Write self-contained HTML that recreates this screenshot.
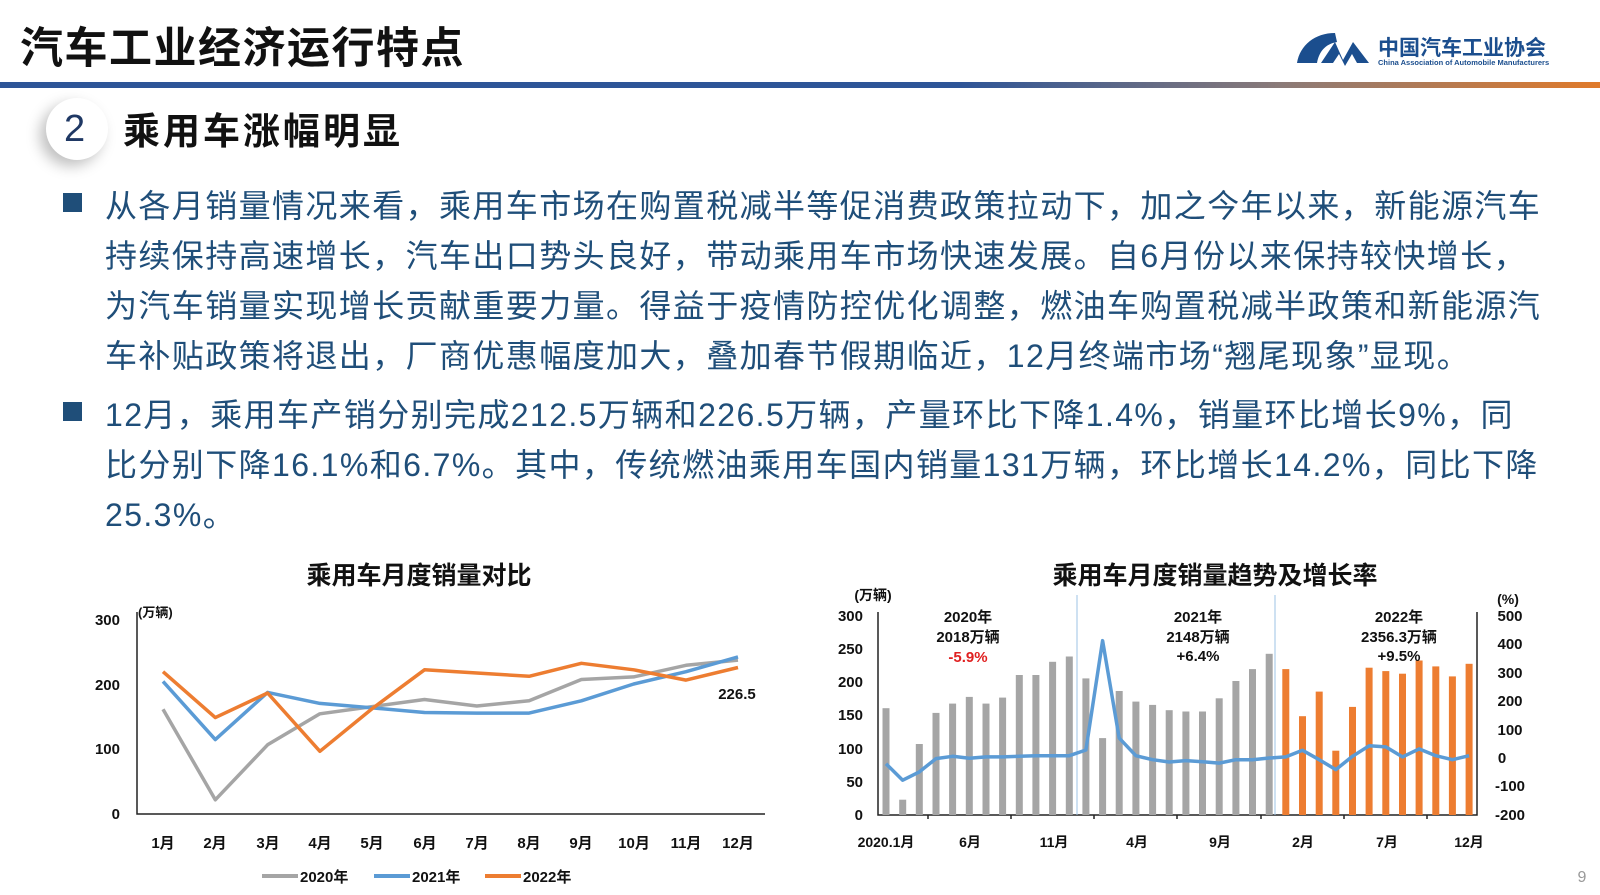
<!DOCTYPE html>
<html><head><meta charset="utf-8"><style>
body{margin:0;width:1600px;height:895px;background:#fff;overflow:hidden;position:relative;font-family:"Liberation Sans","Noto Sans CJK SC",sans-serif}
.t{position:absolute;white-space:nowrap}
.body{color:#1f4e79;font-size:32px;left:105px;letter-spacing:1.4px}
.sq{position:absolute;width:19px;height:19px;background:#1f4e79;left:63px}
</style></head><body>
<div class="t" style="left:20px;top:14px;font-size:43px;font-weight:bold;color:#111;letter-spacing:1.5px">汽车工业经济运行特点</div>
<div style="position:absolute;left:0;top:82px;width:1600px;height:6px;background:linear-gradient(to right,#2e5597 0%,#2e5597 60%,#8a7a78 80%,#e07a2a 100%)"></div>
<svg style="position:absolute;left:1295px;top:30px" width="80" height="38"><path d="M40 3 C20 3 5 15 2 33 L22 33 C24 22 30 14 42 12 Z" fill="#1b4e8e"/><path d="M26 33 L40 12 L48 30 L58 12 L74 33 L62 33 L57 24 L50 36 L44 24 L38 33Z" fill="#1b4e8e"/></svg>
<div class="t" style="left:1378px;top:32px;font-size:21px;font-weight:bold;color:#1b4e8e">中国汽车工业协会</div>
<div class="t" style="left:1378px;top:58px;font-size:7.5px;color:#1b4e8e;font-weight:bold">China Association of Automobile Manufacturers</div>
<div style="position:absolute;left:46px;top:98px;width:62px;height:62px;border-radius:50%;background:#fff;box-shadow:-6px 6px 14px rgba(0,0,0,0.25)"></div>
<div class="t" style="left:64px;top:108px;font-size:38px;color:#1f3864">2</div>
<div class="t" style="left:123px;top:101px;font-size:37px;font-weight:bold;color:#111;letter-spacing:3px">乘用车涨幅明显</div>
<div class="sq" style="top:193px"></div>
<div class="t body" style="top:181px">从各月销量情况来看，乘用车市场在购置税减半等促消费政策拉动下，加之今年以来，新能源汽车</div>
<div class="t body" style="top:231px">持续保持高速增长，汽车出口势头良好，带动乘用车市场快速发展。自6月份以来保持较快增长，</div>
<div class="t body" style="top:281px">为汽车销量实现增长贡献重要力量。得益于疫情防控优化调整，燃油车购置税减半政策和新能源汽</div>
<div class="t body" style="top:331px">车补贴政策将退出，厂商优惠幅度加大，叠加春节假期临近，12月终端市场“翘尾现象”显现。</div>
<div class="sq" style="top:402px"></div>
<div class="t body" style="top:390px">12月，乘用车产销分别完成212.5万辆和226.5万辆，产量环比下降1.4%，销量环比增长9%，同</div>
<div class="t body" style="top:440px">比分别下降16.1%和6.7%。其中，传统燃油乘用车国内销量131万辆，环比增长14.2%，同比下降</div>
<div class="t body" style="top:490px">25.3%。</div>
<svg style="position:absolute;left:0;top:0" width="1600" height="895" font-family="Liberation Sans,Noto Sans CJK SC,sans-serif" font-weight="bold">
<text x="419" y="584" font-size="25" text-anchor="middle" fill="#111">乘用车月度销量对比</text>
<g font-size="15" fill="#111" text-anchor="end"><text x="120" y="625">300</text><text x="120" y="690">200</text><text x="120" y="754">100</text><text x="120" y="819">0</text></g>
<text x="138" y="617" font-size="13" fill="#111">(万辆)</text>
<path d="M137 612V814H765" stroke="#222" stroke-width="1.5" fill="none"/>
<g font-size="15" fill="#111" text-anchor="middle"><text x="163" y="848">1月</text><text x="215" y="848">2月</text><text x="268" y="848">3月</text><text x="320" y="848">4月</text><text x="372" y="848">5月</text><text x="425" y="848">6月</text><text x="477" y="848">7月</text><text x="529" y="848">8月</text><text x="581" y="848">9月</text><text x="634" y="848">10月</text><text x="686" y="848">11月</text><text x="738" y="848">12月</text></g>
<g fill="none" stroke-width="3.5" stroke-linejoin="round">
<polyline stroke="#a5a5a5" points="163,709.2 215.3,799.8 267.6,744.8 319.9,713.8 372.2,706.6 424.5,699.5 476.8,706 529.1,700.8 581.4,679.5 633.7,676.9 686,665.3 738,660.1"/>
<polyline stroke="#5b9bd5" points="163,681.4 215.3,739.6 267.6,692.4 319.9,703.4 372.2,707.9 424.5,712.5 476.8,713.1 529.1,713.1 581.4,700.8 633.7,684 686,671.7 738,656.9"/>
<polyline stroke="#ed7d31" points="163,671.7 215.3,717.6 267.6,693 319.9,751.3 372.2,708.6 424.5,669.8 476.8,673 529.1,676.3 581.4,663.3 633.7,669.8 686,680.1 738,667.5"/>
</g>
<text x="737" y="699" font-size="15" fill="#111" text-anchor="middle">226.5</text>
<g font-size="15" fill="#111"><line x1="262" y1="876" x2="298" y2="876" stroke="#a5a5a5" stroke-width="4"/><text x="300" y="882">2020年</text>
<line x1="374" y1="876" x2="410" y2="876" stroke="#5b9bd5" stroke-width="4"/><text x="412" y="882">2021年</text>
<line x1="485" y1="876" x2="521" y2="876" stroke="#ed7d31" stroke-width="4"/><text x="523" y="882">2022年</text></g>

<text x="1215" y="584" font-size="25" text-anchor="middle" fill="#111">乘用车月度销量趋势及增长率</text>
<text x="873" y="600" font-size="14" fill="#111" text-anchor="middle">(万辆)</text>
<text x="1508" y="604" font-size="14" fill="#111" text-anchor="middle">(%)</text>
<g font-size="15" fill="#111" text-anchor="end"><text x="863" y="621">300</text><text x="863" y="654">250</text><text x="863" y="687">200</text><text x="863" y="720">150</text><text x="863" y="754">100</text><text x="863" y="787">50</text><text x="863" y="820">0</text></g>
<g font-size="15" fill="#111" text-anchor="middle"><text x="1510" y="621">500</text><text x="1510" y="649">400</text><text x="1510" y="678">300</text><text x="1510" y="706">200</text><text x="1510" y="735">100</text><text x="1502" y="763">0</text><text x="1510" y="791">-100</text><text x="1510" y="820">-200</text></g>
<path d="M878 612V815H1477V612" stroke="#222" stroke-width="1.5" fill="none"/>
<path d="M1077 595V815M1275 595V815" stroke="#9dc3e6" stroke-width="1"/>
<path d="M928 815v4M1011 815v4M1094 815v4M1177 815v4M1261 815v4M1344 815v4M1427 815v4" stroke="#222" stroke-width="1.5"/>
<g fill="#a5a5a5">
<rect x="882.5" y="708.2" width="7" height="106.8"/><rect x="899.2" y="799.7" width="7" height="15.3"/><rect x="915.8" y="744" width="7" height="71"/><rect x="932.5" y="712.9" width="7" height="102.1"/><rect x="949.1" y="703.6" width="7" height="111.4"/><rect x="965.8" y="696.9" width="7" height="118.1"/><rect x="982.5" y="703.6" width="7" height="111.4"/><rect x="999.1" y="697.6" width="7" height="117.4"/><rect x="1015.8" y="675" width="7" height="140"/><rect x="1032.4" y="675" width="7" height="140"/><rect x="1049.1" y="661.8" width="7" height="153.2"/><rect x="1065.8" y="656.5" width="7" height="158.5"/>
<rect x="1082.4" y="678.4" width="7" height="136.6"/><rect x="1099.1" y="738.1" width="7" height="76.9"/><rect x="1115.7" y="691" width="7" height="124"/><rect x="1132.4" y="701.6" width="7" height="113.4"/><rect x="1149.1" y="704.9" width="7" height="110.1"/><rect x="1165.7" y="710.2" width="7" height="104.8"/><rect x="1182.4" y="711.5" width="7" height="103.5"/><rect x="1199" y="711.5" width="7" height="103.5"/><rect x="1215.7" y="698.3" width="7" height="116.7"/><rect x="1232.4" y="681" width="7" height="134"/><rect x="1249" y="669.1" width="7" height="145.9"/><rect x="1265.7" y="653.8" width="7" height="161.2"/>
</g>
<g fill="#ed7d31">
<rect x="1282.3" y="669.1" width="7" height="145.9"/><rect x="1299" y="716.2" width="7" height="98.8"/><rect x="1315.7" y="691.6" width="7" height="123.4"/><rect x="1332.3" y="750.7" width="7" height="64.3"/><rect x="1349" y="706.9" width="7" height="108.1"/><rect x="1365.6" y="667.7" width="7" height="147.3"/><rect x="1382.3" y="671.1" width="7" height="143.9"/><rect x="1399" y="673.7" width="7" height="141.3"/><rect x="1415.6" y="660.5" width="7" height="154.5"/><rect x="1432.3" y="666.4" width="7" height="148.6"/><rect x="1448.9" y="676.4" width="7" height="138.6"/><rect x="1465.6" y="663.8" width="7" height="151.2"/>
</g>
<polyline fill="none" stroke="#5b9bd5" stroke-width="3.5" stroke-linejoin="round" points="886,763.7 902.7,780.2 919.3,771.9 936,758.6 952.6,756.3 969.3,758.3 986,756.9 1002.6,756.9 1019.3,756.3 1035.9,755.7 1052.6,755.7 1069.3,755.7 1085.9,750 1102.6,640.7 1119.2,738.1 1135.9,755.7 1152.6,759.7 1169.2,762 1185.9,760.6 1202.5,761.7 1219.2,763.1 1235.9,759.7 1252.5,759.7 1269.2,758 1285.8,756.9 1302.5,750.3 1319.2,759.7 1335.8,769.6 1352.5,756.3 1369.1,745.8 1385.8,746.9 1402.5,756.9 1419.1,748.9 1435.8,755.7 1452.4,759.7 1469.1,755.7"/>
<g font-size="15" text-anchor="middle" fill="#111">
<text x="968" y="622">2020年</text><text x="968" y="642">2018万辆</text><text x="968" y="662" fill="#e02020">-5.9%</text>
<text x="1198" y="622">2021年</text><text x="1198" y="642">2148万辆</text><text x="1198" y="661">+6.4%</text>
<text x="1399" y="622">2022年</text><text x="1399" y="642">2356.3万辆</text><text x="1399" y="661">+9.5%</text>
</g>
<g font-size="14" fill="#111" text-anchor="middle"><text x="886" y="847">2020.1月</text><text x="970" y="847">6月</text><text x="1054" y="847">11月</text><text x="1137" y="847">4月</text><text x="1220" y="847">9月</text><text x="1303" y="847">2月</text><text x="1387" y="847">7月</text><text x="1469" y="847">12月</text></g>
<text x="1582" y="882" font-size="16" font-weight="normal" fill="#999" text-anchor="middle">9</text>
</svg>
</body></html>
